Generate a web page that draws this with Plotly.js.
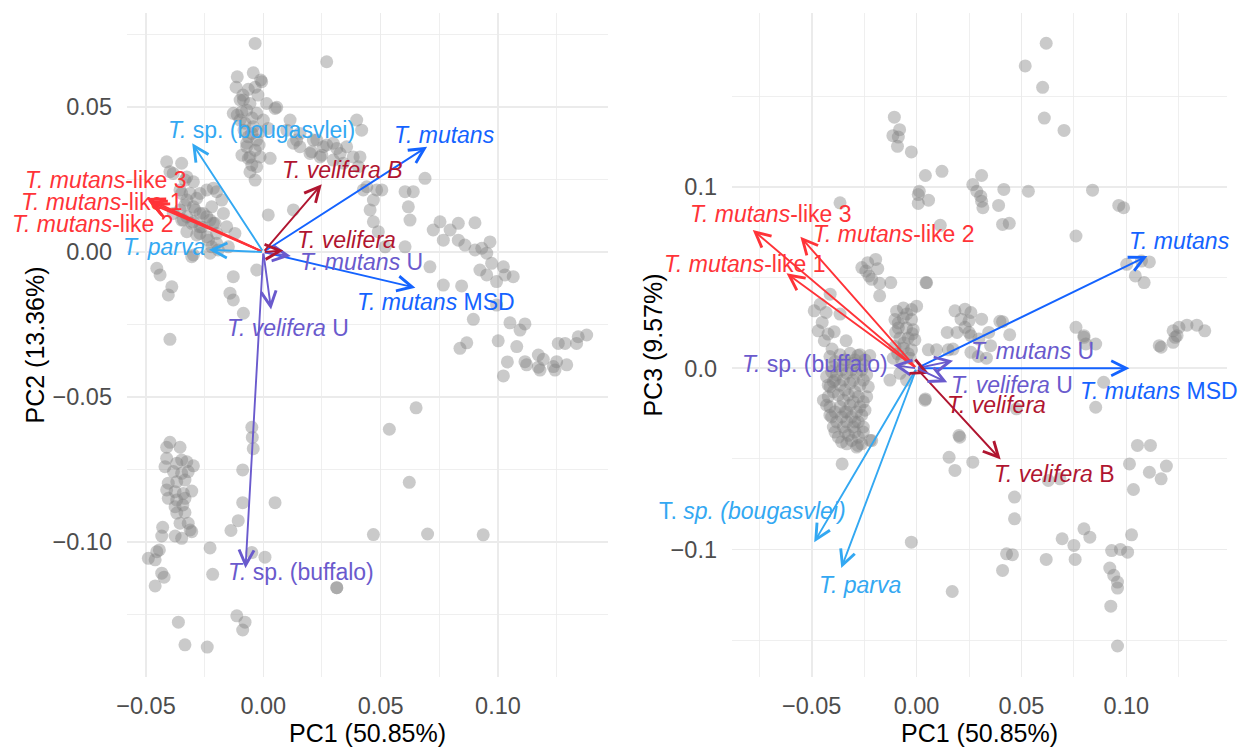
<!DOCTYPE html>
<html>
<head>
<meta charset="utf-8">
<script src="https://cdn.plot.ly/plotly-3.0.1.min.js"></script>
<style>html,body{margin:0;padding:0;background:#fff;}#chart{width:1241px;height:747px;}</style>
</head>
<body>
<div id="chart"></div>
<script>
// ---------------- DATA ----------------
// Left panel: sample scores PC1 vs PC2
const leftPC1 = [
-0.0035,0.0270,-0.0111,-0.0043,-0.0011,-0.0116,-0.0064,-0.0035,-0.0085,-0.0057,0.0057,-0.0111,-0.0071,-0.0028,0.0000,-0.0078,-0.0043,-0.0014,-0.0064,-0.0028,-0.0071,-0.0035,-0.0057,-0.0014,-0.0049,0.0029,-0.0035,-0.0099,-0.0128,0.0021,0.0014,0.0050,-0.0099,-0.0007,-0.0092,-0.0049,-0.0071,-0.0064,-0.0028,-0.0057,-0.0087,-0.0023,-0.0082,-0.0048,-0.0018,-0.0091,
0.0398,0.0419,0.0156,0.0213,0.0256,0.0298,0.0355,0.0327,0.0242,0.0199,0.0156,0.0383,0.0412,0.0298,0.0341,0.0405,0.0128,0.0114,0.0228,0.0270,0.0313,0.0206,0.0249,0.0100,0.0142,0.0441,0.0469,0.0483,0.0604,0.0639,0.0618,0.0625,0.0455,0.0469,0.0519,0.0604,0.0689,0.0505,0.0490,0.0426,
0.0753,0.0724,0.0796,0.0831,0.0902,0.0767,0.0831,0.0859,0.0902,0.0931,0.0966,0.0952,0.0973,0.0923,0.0952,0.0994,0.1023,0.1030,0.1065,0.0710,0.0767,0.0845,0.0994,0.0895,0.1051,0.1094,0.1115,0.1001,0.0838,0.0867,0.1080,0.1257,0.1286,0.1342,0.1378,0.1335,0.1040,0.1023,0.1115,0.1122,0.1172,0.1193,0.1172,0.1179,0.1236,0.1243,0.1250,0.1293,0.0651,0.0537,0.0622,0.0700,0.0937,0.0469,0.0313,0.0313,
-0.0412,-0.0348,-0.0398,-0.0334,-0.0355,-0.0312,-0.0284,-0.0334,-0.0291,-0.0256,-0.0227,-0.0341,-0.0305,-0.0262,-0.0326,-0.0284,-0.0241,-0.0199,-0.0241,-0.0199,-0.0177,-0.0220,-0.0170,-0.0206,-0.0156,-0.0298,-0.0220,-0.0192,-0.0454,-0.0440,-0.0390,-0.0405,-0.0142,-0.0128,-0.0128,-0.0085,-0.0028,0.0021,0.0128,-0.0384,-0.0326,-0.0298,-0.0270,-0.0213,-0.0348,-0.0326,-0.0298,-0.0270,-0.0355,-0.0326,-0.0298,-0.0270,-0.0241,-0.0213,-0.0384,-0.0348,-0.0270,-0.0234,-0.0199,-0.0305,-0.0227,-0.0149,-0.0121,-0.0398,
-0.0049,-0.0047,-0.0043,-0.0088,-0.0088,0.0050,-0.0107,-0.0138,-0.0227,0.0007,-0.0049,-0.0216,-0.0113,-0.0078,-0.0088,-0.0362,-0.0334,-0.0239,
-0.0398,-0.0412,-0.0355,-0.0412,-0.0419,-0.0369,-0.0348,-0.0326,-0.0298,-0.0383,-0.0348,-0.0320,-0.0405,-0.0369,-0.0334,-0.0412,-0.0376,-0.0341,-0.0305,-0.0405,-0.0369,-0.0334,-0.0376,-0.0343,-0.0369,-0.0334,-0.0355,-0.0320,-0.0312,-0.0305,-0.0429,-0.0433,-0.0376,-0.0348,-0.0443,-0.0454,-0.0490,-0.0461,-0.0433,-0.0423,-0.0461
];
const leftPC2 = [
0.0719,0.0656,0.0604,0.0618,0.0593,0.0568,0.0561,0.0568,0.0524,0.0512,0.0499,0.0472,0.0489,0.0478,0.0455,0.0444,0.0432,0.0415,0.0397,0.0386,0.0363,0.0351,0.0328,0.0328,0.0300,0.0323,0.0248,0.0455,0.0478,0.0426,0.0512,0.0495,0.0524,0.0587,0.0483,0.0409,0.0375,0.0323,0.0294,0.0276,0.0541,0.0541,0.0420,0.0462,0.0369,0.0334,
0.0455,0.0420,0.0409,0.0386,0.0363,0.0375,0.0363,0.0340,0.0328,0.0340,0.0363,0.0328,0.0328,0.0317,0.0306,0.0294,0.0375,0.0455,0.0386,0.0369,0.0357,0.0346,0.0334,0.0420,0.0386,0.0225,0.0179,0.0214,0.0208,0.0208,0.0156,0.0110,0.0145,0.0104,0.0018,0.0018,0.0254,0.0214,0.0070,0.0214,
0.0104,0.0076,0.0076,0.0099,0.0101,0.0041,0.0041,0.0024,0.0007,0.0013,0.0035,-0.0004,-0.0039,-0.0062,-0.0079,-0.0102,-0.0051,-0.0079,-0.0085,-0.0051,-0.0114,-0.0117,-0.0183,-0.0232,-0.0244,-0.0269,-0.0248,-0.0306,-0.0332,-0.0313,-0.0326,-0.0315,-0.0315,-0.0292,-0.0286,-0.0315,-0.0379,-0.0427,-0.0378,-0.0389,-0.0355,-0.0370,-0.0397,-0.0407,-0.0395,-0.0407,-0.0378,-0.0389,-0.0537,-0.0611,-0.0794,-0.0972,-0.0975,-0.0974,-0.1157,-0.1157,
0.0311,0.0306,0.0277,0.0248,0.0214,0.0202,0.0185,0.0162,0.0145,0.0133,0.0110,0.0110,0.0099,0.0087,0.0070,0.0059,0.0053,0.0064,0.0214,0.0208,0.0179,0.0156,0.0133,0.0099,0.0087,-0.0010,0.0018,0.0007,-0.0056,-0.0079,-0.0120,-0.0148,-0.0142,-0.0085,-0.0165,-0.0211,-0.0062,0.0128,0.0145,0.0271,0.0259,0.0242,0.0202,0.0220,0.0202,0.0179,0.0156,0.0133,0.0145,0.0122,0.0104,0.0087,0.0122,0.0099,0.0133,0.0110,0.0064,0.0041,0.0030,-0.0016,-0.0004,0.0018,0.0064,-0.0301,
-0.0604,-0.0639,-0.0678,-0.0751,-0.0864,-0.0864,-0.0926,-0.0960,-0.1020,-0.1052,-0.1036,-0.1111,-0.1254,-0.1276,-0.1303,-0.1276,-0.1354,-0.1362,
-0.0656,-0.0673,-0.0673,-0.0711,-0.0740,-0.0728,-0.0717,-0.0723,-0.0737,-0.0757,-0.0763,-0.0757,-0.0797,-0.0792,-0.0786,-0.0820,-0.0826,-0.0832,-0.0824,-0.0849,-0.0855,-0.0849,-0.0878,-0.0872,-0.0900,-0.0898,-0.0935,-0.0935,-0.0958,-0.0964,-0.0949,-0.0979,-0.0979,-0.0987,-0.1027,-0.1033,-0.1056,-0.1061,-0.1107,-0.1121,-0.1151
];

// Right panel: sample scores PC1 vs PC3
const rightPC1 = [
0.0618,0.0518,0.0601,0.0609,0.0703,-0.0106,-0.0081,-0.0113,-0.0087,-0.0091,-0.0025,0.0042,0.0121,0.0013,0.0008,0.0057,0.0008,0.0268,0.0310,0.0287,0.0306,0.0310,0.0316,0.0416,0.0533,0.0391,0.0410,0.0442,0.0839,0.0964,0.0987,0.0760,-0.0365,0.0113,0.0045,0.1002,0.1043,0.1085,0.1110,0.1072,
-0.0233,-0.0242,-0.0185,-0.0214,-0.0176,-0.0123,-0.0176,-0.0227,-0.0261,-0.0195,0.0048,
-0.0488,-0.0459,-0.0431,-0.0412,-0.0365,-0.0450,-0.0469,-0.0422,-0.0393,-0.0440,-0.0336,-0.0403,-0.0280,-0.0223,
-0.0413,-0.0365,-0.0317,-0.0270,-0.0397,-0.0349,-0.0302,-0.0254,-0.0429,-0.0381,-0.0333,-0.0286,-0.0238,-0.0413,-0.0365,-0.0317,-0.0270,-0.0230,-0.0421,-0.0373,-0.0325,-0.0278,-0.0238,-0.0413,-0.0365,-0.0317,-0.0270,-0.0405,-0.0357,-0.0310,-0.0262,-0.0397,-0.0349,-0.0302,-0.0373,-0.0325,-0.0278,-0.0286,-0.0222,-0.0444,-0.0341,-0.0294,-0.0341,-0.0294,-0.0389,-0.0254,-0.0333,-0.0280,-0.0214,-0.0355,
-0.0389,-0.0341,-0.0294,-0.0246,-0.0405,-0.0357,-0.0310,-0.0262,-0.0397,-0.0349,-0.0302,-0.0254,-0.0397,-0.0349,-0.0302,-0.0254,-0.0389,-0.0333,-0.0286,-0.0246,-0.0381,-0.0333,-0.0278,-0.0389,-0.0341,-0.0294,-0.0254,-0.0357,-0.0310,-0.0262,-0.0413,-0.0429,-0.0421,
-0.0095,-0.0063,-0.0024,0.0000,-0.0103,-0.0063,-0.0024,-0.0087,-0.0048,-0.0016,-0.0079,-0.0040,-0.0008,-0.0103,-0.0063,-0.0024,-0.0111,-0.0071,-0.0032,-0.0127,-0.0048,-0.0079,
-0.0047,-0.0087,-0.0020,-0.0060,-0.0090,-0.0040,-0.0100,
0.0183,0.0231,0.0259,0.0212,0.0250,0.0231,0.0310,0.0410,0.0146,0.0193,0.0250,0.0174,0.0259,0.0297,0.0344,0.0259,0.0353,0.0397,0.0444,0.0056,0.0095,0.0151,0.0294,0.0333,0.0040,0.0206,
0.0760,0.0798,0.0854,0.1166,0.1223,0.1223,0.1251,0.1289,0.1336,0.1374,0.1242,
0.0042,0.0155,0.0183,0.0268,0.0202,-0.0025,0.0170,0.0467,0.0467,0.0429,0.0457,0.0410,0.0618,0.0694,0.0750,0.0756,0.0798,0.0826,0.1025,0.0930,0.0972,0.1006,0.0921,0.0940,0.0958,0.0958,0.0926,0.0958,0.1053,0.1115,0.1015,0.1110,0.1166,0.1191,0.1034,0.0628,0.0684,0.0854,0.0892,0.0798,0.0807,0.1157,0.1233,0.0476
];
const rightPC3 = [
0.1794,0.1669,0.1551,0.1381,0.1313,0.1386,0.1317,0.1284,0.1276,0.1225,0.1194,0.1064,0.1087,0.0977,0.0959,0.0928,0.0910,0.1014,0.1064,0.0977,0.0950,0.0922,0.0886,0.0987,0.0977,0.0899,0.0794,0.0800,0.0983,0.0899,0.0886,0.0730,0.0913,0.0789,0.0473,0.0574,0.0510,0.0473,0.0587,0.0592,
0.0583,0.0537,0.0550,0.0491,0.0469,0.0473,0.0400,0.0510,0.0556,0.0601,0.0472,
0.0317,0.0354,0.0308,0.0409,0.0299,0.0253,0.0207,0.0189,0.0202,0.0152,0.0152,0.0106,0.0070,0.0070,
0.0065,0.0074,0.0083,0.0074,0.0009,0.0019,0.0028,0.0019,-0.0046,-0.0037,-0.0028,-0.0028,-0.0037,-0.0102,-0.0093,-0.0083,-0.0093,-0.0102,-0.0157,-0.0148,-0.0148,-0.0157,-0.0157,-0.0213,-0.0213,-0.0204,-0.0213,-0.0269,-0.0269,-0.0269,-0.0259,-0.0324,-0.0324,-0.0324,-0.0380,-0.0370,-0.0380,-0.0435,-0.0398,-0.0176,-0.0120,-0.0130,-0.0241,-0.0296,-0.0065,-0.0324,-0.0417,-0.0426,-0.0399,-0.0528,
0.0037,0.0046,0.0046,0.0046,-0.0018,-0.0009,-0.0009,-0.0009,-0.0074,-0.0065,-0.0065,-0.0065,-0.0130,-0.0176,-0.0185,-0.0185,-0.0241,-0.0241,-0.0241,-0.0231,-0.0296,-0.0296,-0.0296,-0.0352,-0.0352,-0.0352,-0.0352,-0.0407,-0.0398,-0.0417,-0.0259,-0.0204,-0.0093,
0.0315,0.0333,0.0324,0.0343,0.0269,0.0278,0.0269,0.0222,0.0222,0.0213,0.0167,0.0167,0.0157,0.0120,0.0111,0.0102,0.0056,0.0046,0.0056,-0.0065,-0.0065,-0.0028,
0.0300,0.0250,0.0190,0.0140,0.0080,0.0080,0.0200,
0.0317,0.0326,0.0308,0.0271,0.0262,0.0226,0.0271,0.0257,0.0198,0.0198,0.0198,0.0106,0.0180,0.0161,0.0198,0.0088,0.0125,0.0259,0.0185,0.0102,0.0102,0.0102,0.0065,0.0056,-0.0176,-0.0380,
0.0226,0.0180,0.0134,0.0116,0.0143,0.0207,0.0226,0.0238,0.0238,0.0207,0.0180,
-0.0169,-0.0491,-0.0564,-0.0518,-0.0371,-0.0960,-0.1232,-0.0711,-0.0831,-0.1024,-0.1029,-0.1116,-0.1055,-0.0941,-0.0978,-0.1055,-0.0886,-0.0932,-0.0919,-0.1006,-0.1000,-0.1015,-0.1103,-0.1143,-0.1180,-0.1213,-0.1313,-0.1533,-0.0426,-0.0426,-0.0528,-0.0574,-0.0610,-0.0540,-0.0669,-0.0619,-0.0610,-0.0215,-0.0077,0.0171,0.0134,0.0125,0.0171,-0.0224
];

// Loadings (arrow tips) and label positions
const taxa = ["T. mutans","T. mutans MSD","T. mutans U","T. mutans-like 1","T. mutans-like 2","T. mutans-like 3","T. sp. (bougasvlei)","T. parva","T. sp. (buffalo)","T. velifera","T. velifera B","T. velifera U"];
const taxonGroup = ["mutans","mutans","unknown","mutanslike","mutanslike","mutanslike","parva","parva","unknown","velifera","velifera","unknown"];

const leftLabels = ["<i>T. mutans</i>","<i>T. mutans</i> MSD","<i>T. mutans</i> U","<i>T. mutans</i>-like 1","<i>T. mutans</i>-like 2","<i>T. mutans</i>-like 3","<i>T.</i> sp. (bougasvlei)","<i>T. parva</i>","<i>T.</i> sp. (buffalo)","<i>T. velifera</i>","<i>T. velifera B</i>","<i>T. velifera</i> U"];
const rightLabels = ["<i>T. mutans</i>","<i>T. mutans</i> MSD","<i>T. mutans</i> U","<i>T. mutans</i>-like 1","<i>T. mutans</i>-like 2","<i>T. mutans</i>-like 3","T. <i>sp. (bougasvlei)</i>","<i>T. parva</i>","<i>T.</i> sp. (buffalo)","<i>T. velifera</i>","<i>T. velifera</i> B","<i>T. velifera</i> U"];

const loadPC1_left  = [0.0698, 0.0648, 0.0117, -0.0491, -0.0481, -0.0498, -0.0303, -0.0232, -0.0076, 0.0085, 0.0249, 0.0033];
const loadPC2_left  = [0.0363, -0.0123, -0.0014, 0.0177, 0.0167, 0.0186, 0.0375, 0.0008, -0.1090, 0.0005, 0.0234, -0.0198];
const labelPC1_left = [0.0770, 0.0734, 0.0418, -0.0689, -0.0728, -0.0671, -0.0007, -0.0422, 0.0160, 0.0355, 0.0337, 0.0103];
const labelPC2_left = [0.0403, -0.0173, -0.0033, 0.0173, 0.0097, 0.0248, 0.0420, 0.0018, -0.1102, 0.0041, 0.0283, -0.0263];

const loadPC1_right  = [0.1100, 0.1015, 0.0174, -0.0620, -0.0554, -0.0781, -0.0488, -0.0359, -0.0110, 0.0060, 0.0401, 0.0146];
const loadPC3_right  = [0.0620, 0.0000, 0.0042, 0.0524, 0.0726, 0.0763, -0.0960, -0.1103, 0.0018, -0.0030, -0.0504, -0.0077];
const labelPC1_right = [0.1255, 0.1157, 0.0552, -0.0819, -0.0106, -0.0696, -0.0783, -0.0268, -0.0484, 0.0382, 0.0656, 0.0457];
const labelPC3_right = [0.0705, -0.0123, 0.0097, 0.0574, 0.0739, 0.0853, -0.0785, -0.1195, 0.0024, -0.0202, -0.0583, -0.0092];

// ---------------- STYLE ----------------
const groupColor = {mutans:"#1463FF", parva:"#33A8F2", mutanslike:"#FF3338", velifera:"#B01530", unknown:"#6A5ACD"};
const FONT = "'Liberation Sans', Arial, Helvetica, sans-serif";
const colors = taxonGroup.map(g => groupColor[g]);
const pointStyle = {size: 13, color: "rgba(128,128,128,0.42)", line: {width: 0}};

const traces = [
  {type:"scatter", mode:"markers", x:leftPC1, y:leftPC2, xaxis:"x", yaxis:"y", marker:pointStyle, hoverinfo:"skip", showlegend:false},
  {type:"scatter", mode:"markers", x:rightPC1, y:rightPC3, xaxis:"x2", yaxis:"y2", marker:pointStyle, hoverinfo:"skip", showlegend:false}
];

const annotations = [];
function addArrows(xs, ys, xr, yr) {
  xs.forEach((x, i) => {
    annotations.push({xref:xr, yref:yr, axref:xr, ayref:yr, x:x, y:ys[i], ax:0, ay:0, text:"",
      showarrow:true, arrowhead:5, arrowsize:1.55, arrowwidth:1.9, arrowcolor:colors[i], standoff:0, startstandoff:0});
  });
}
function addLabels(tipX, tipY, xs, ys, labels, xr, yr) {
  // label text sits at the (invisible) arrow tail = label position; head anchored at loading tip (always in range)
  xs.forEach((x, i) => {
    annotations.push({xref:xr, yref:yr, axref:xr, ayref:yr, x:tipX[i], y:tipY[i], ax:x, ay:ys[i], text:labels[i],
      showarrow:true, arrowhead:0, arrowwidth:0.1, arrowcolor:"rgba(0,0,0,0)", standoff:0, startstandoff:0,
      xanchor:"center", yanchor:"middle", borderpad:0,
      font:{family:FONT, size:23, color:colors[i]}});
  });
}
addArrows(loadPC1_left, loadPC2_left, "x", "y");
addArrows(loadPC1_right, loadPC3_right, "x2", "y2");
addLabels(loadPC1_left, loadPC2_left, labelPC1_left, labelPC2_left, leftLabels, "x", "y");
addLabels(loadPC1_right, loadPC3_right, labelPC1_right, labelPC3_right, rightLabels, "x2", "y2");

const gridC = "#EBEBEB";
const titleFont = {family:FONT, size:25, color:"#000000"};
function axis(extra) {
  return Object.assign({
    showgrid:true, gridcolor:gridC, gridwidth:1.6, zeroline:false, showline:false, ticks:"",
    tickfont:{family:FONT, size:23.5, color:"#4D4D4D"}
  }, extra);
}

const layout = {
  width:1241, height:747,
  paper_bgcolor:"#FFFFFF", plot_bgcolor:"#FFFFFF",
  margin:{l:127, r:14, t:13, b:70},
  showlegend:false,
  xaxis: axis({domain:[0, 0.4373], anchor:"y", range:[-0.0581, 0.1469], tick0:0, dtick:0.05, tickformat:".2f", ticklabelstandoff:12,
    minor:{tick0:0, dtick:0.025, showgrid:true, gridcolor:gridC, gridwidth:0.8},
    title:{text:"PC1 (50.85%)", font:titleFont, standoff:5}}),
  yaxis: axis({domain:[0, 1], anchor:"x", range:[-0.1465, 0.0824], tick0:0, dtick:0.05, tickformat:".2f", ticklabelstandoff:14,
    minor:{tick0:0, dtick:0.025, showgrid:true, gridcolor:gridC, gridwidth:0.8},
    title:{text:"PC2 (13.36%)", font:titleFont, standoff:0}}),
  xaxis2: axis({domain:[0.55, 1], anchor:"y2", range:[-0.088, 0.148], tick0:0, dtick:0.05, tickformat:".2f", ticklabelstandoff:12,
    minor:{tick0:0, dtick:0.025, showgrid:true, gridcolor:gridC, gridwidth:0.8},
    title:{text:"PC1 (50.85%)", font:titleFont, standoff:5}}),
  yaxis2: axis({domain:[0, 1], anchor:"x2", range:[-0.1704, 0.1961], tick0:0, dtick:0.1, tickformat:".1f", ticklabelstandoff:14,
    minor:{tick0:0, dtick:0.05, showgrid:true, gridcolor:gridC, gridwidth:0.8},
    title:{text:"PC3 (9.57%)", font:titleFont, standoff:0}}),
  annotations: annotations
};

Plotly.newPlot("chart", traces, layout, {staticPlot:true, displayModeBar:false});
</script>
</body>
</html>
